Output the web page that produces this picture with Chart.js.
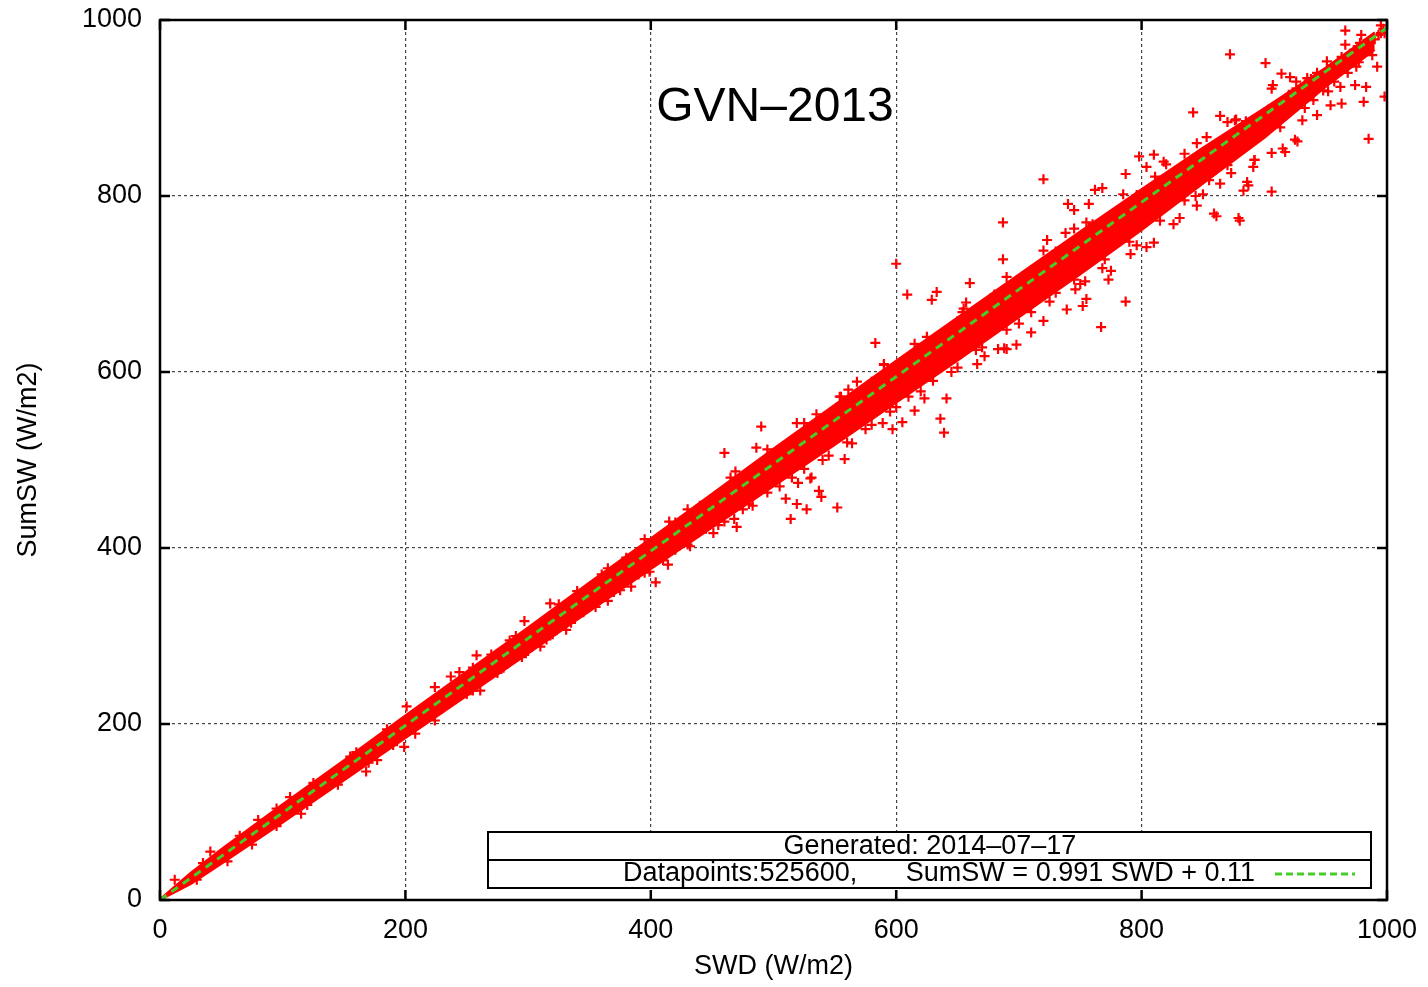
<!DOCTYPE html>
<html>
<head>
<meta charset="utf-8">
<script src="https://cdn.jsdelivr.net/npm/chart.js@4"></script>
<style>
  body { margin: 0; background: #fff; }
  #wrap { width: 1428px; height: 987px; }
</style>
</head>
<body>
<div id="wrap"><canvas id="chart" width="1428" height="987"></canvas></div>
<script>
// axis ticks (both axes)
const tickValues = [0, 200, 400, 600, 800, 1000];

// dense core of the cloud: lower / upper edge of the solid red band
const bandX  = [0, 25, 50, 100, 150, 200, 250, 300, 350, 400, 450, 500, 550, 600, 650, 700, 750, 800, 850, 900, 950, 990];
const bandLo = [0, 18, 41, 88, 136, 184, 232, 280, 328, 376, 423, 470, 517, 565, 613, 662, 711, 761, 814, 866, 924, 966];
const bandHi = [1, 31, 58, 109, 159, 210, 260, 310, 361, 411, 462, 513, 563, 613, 662, 711, 760, 808, 855, 900, 946, 986];

// single points (edge of the band and outliers), SWD / SumSW
const crossX = [
  12, 41, 80, 106, 115, 155, 168, 177, 199, 208, 224, 224, 201,
  35, 65, 95, 125, 160, 185, 30, 55, 75, 95, 120, 145, 170, 190,
  244, 237, 258, 297, 318, 331, 261, 310, 365, 384, 404, 414, 415, 432, 451, 399,
  270, 285, 340, 360, 380, 420, 440, 250, 280, 300, 320, 345, 370, 390, 420, 445,
  460, 490, 486, 469, 483, 470, 468, 514, 519, 527, 537, 539, 510, 520, 530, 519, 535, 554, 561, 568,
  583, 590, 597, 605, 615, 623, 641, 636, 639, 552, 531, 558, 564, 589, 600, 609, 633, 629, 660, 687,
  615, 710, 720, 698, 690, 683, 739, 752, 755, 754, 746, 657, 654, 672, 666, 688,
  470, 500, 530, 560, 580, 620, 650, 680, 730, 760, 460, 480, 505, 525, 545, 575, 595, 620, 645, 665, 700, 730, 750,
  720, 787, 798, 810, 842, 864, 762, 768, 740, 745, 757, 723, 738, 745, 687, 768, 775, 773, 787, 810, 804, 796, 791,
  826, 831, 845, 859, 879, 883, 886, 892, 873, 864, 850, 876, 885, 853, 835, 818, 811, 804, 796, 767,
  966, 995, 901, 914, 872, 985, 998, 981, 974, 983, 963, 954, 952, 943, 931, 925, 915, 906, 891, 892, 877,
  906, 907, 921, 926, 951, 966, 979, 992, 975, 962, 940, 935, 945, 906, 887, 861, 880, 927, 917, 844,
  900, 910, 920, 930, 940, 950, 960, 970, 980, 990, 995, 905, 915, 925, 935, 945, 955, 965, 975, 985, 998,
  890, 880, 870, 860, 895, 912, 928, 948, 968, 988,
  255, 275, 295, 315, 335, 355, 375, 395, 410, 430, 455, 475, 495, 515, 540, 560, 580, 600, 610, 630,
  650, 670, 690, 710, 725, 745, 770, 790, 815, 835, 855, 870,
  255, 290, 325, 365, 395, 430, 465, 495, 525, 555, 590, 625, 655, 690, 720, 755, 785, 820, 845, 870,
  860, 868, 875, 884, 893, 898, 903, 908, 918, 923, 933, 938, 943, 953, 958, 963, 973, 978, 983, 993, 997,
  887, 897, 913, 933, 957, 977
];
const crossY = [
  23, 55, 91, 117, 98, 163, 146, 159, 174, 189, 204, 242, 220,
  42, 73, 104, 133, 168, 194, 23, 44, 63, 84, 108, 131, 156, 176,
  259, 254, 278, 317, 337, 307, 238, 288, 340, 356, 361, 381, 430, 402, 417, 373,
  279, 295, 351, 370, 389, 429, 448, 234, 264, 283, 302, 327, 350, 370, 398, 422,
  508, 538, 514, 487, 448, 424, 433, 433, 450, 444, 465, 458, 456, 474, 479, 542, 552, 572, 580, 589,
  633, 609, 535, 543, 556, 570, 570, 547, 531, 446, 480, 501, 519, 542, 723, 688, 691, 682, 701, 728,
  632, 645, 658, 631, 626, 626, 671, 675, 683, 703, 694, 679, 668, 618, 609, 627,
  475, 507, 538, 567, 589, 627, 658, 688, 737, 768, 430, 450, 470, 490, 505, 535, 555, 578, 600, 625, 655, 690, 700,
  819, 825, 845, 847, 895, 891, 807, 809, 791, 784, 791, 750, 758, 763, 770, 718, 715, 705, 680, 747, 742, 744, 734,
  768, 775, 789, 780, 775, 806, 816, 841, 826, 814, 802, 886, 885, 867, 848, 839, 822, 833, 801, 651,
  988, 994, 951, 939, 961, 865, 913, 907, 926, 924, 905, 903, 919, 892, 886, 864, 854, 849, 833, 841, 887,
  922, 926, 935, 930, 953, 972, 983, 947, 947, 924, 909, 934, 924, 805, 812, 777, 772, 862, 850, 800,
  895, 900, 915, 920, 930, 938, 950, 960, 968, 978, 985, 888, 905, 912, 925, 935, 945, 955, 963, 975, 985,
  880, 870, 855, 850, 875, 890, 905, 920, 940, 960,
  238, 258, 276, 296, 315, 333, 352, 372, 386, 404, 426, 444, 463, 480, 500, 520, 540, 560, 572, 590,
  605, 628, 648, 668, 680, 705, 728, 748, 772, 795, 818, 835,
  264, 300, 336, 377, 410, 444, 480, 512, 542, 572, 608, 640, 672, 708, 738, 770, 802, 836, 860, 884,
  845, 862, 872, 877, 885, 892, 898, 896, 908, 918, 927, 933, 940, 944, 948, 958, 966, 974, 970, 983, 990,
  862, 868, 878, 900, 930, 952
];

// fit from the legend: SumSW = 0.991 SWD + 0.11
const fitX = [0, 1000];
const fitY = [0.11, 991.11];

const FONT = 'Liberation Sans, Arial, Helvetica, sans-serif';
const RED = '#ff0000';
const GREEN = 'rgb(70,205,40)';

const toXY = (xs, ys) => xs.map((v, i) => ({ x: v, y: ys[i] }));

const framePlugin = {
  id: 'frame',
  afterDatasetsDraw(chart) {
    const { ctx, chartArea: a, scales: { x, y } } = chart;
    ctx.save();
    ctx.strokeStyle = '#000';
    ctx.lineWidth = 2.5;
    ctx.strokeRect(a.left, a.top, a.right - a.left, a.bottom - a.top);
    ctx.beginPath();
    tickValues.forEach(v => {
      const px = x.getPixelForValue(v), py = y.getPixelForValue(v);
      ctx.moveTo(px, a.bottom); ctx.lineTo(px, a.bottom - 10);
      ctx.moveTo(px, a.top); ctx.lineTo(px, a.top + 10);
      ctx.moveTo(a.left, py); ctx.lineTo(a.left + 10, py);
      ctx.moveTo(a.right, py); ctx.lineTo(a.right - 10, py);
    });
    ctx.stroke();

    // title
    ctx.fillStyle = '#000';
    ctx.font = '48px ' + FONT;
    ctx.textAlign = 'center';
    ctx.textBaseline = 'middle';
    ctx.fillText('GVN\u20132013', 775, 108);

    // key box
    const bx = 488, by = 832, bw = 883, bh = 56;
    ctx.fillStyle = '#fff';
    ctx.fillRect(bx, by, bw, bh);
    ctx.lineWidth = 2;
    ctx.strokeRect(bx, by, bw, bh);
    ctx.beginPath();
    ctx.moveTo(bx, by + 28); ctx.lineTo(bx + bw, by + 28);
    ctx.stroke();
    ctx.fillStyle = '#000';
    ctx.font = '27px ' + FONT;
    ctx.textAlign = 'center';
    ctx.fillText('Generated: 2014\u201307\u201317', 930, 847);
    ctx.textAlign = 'left';
    ctx.fillText('Datapoints:525600,', 623, 874);
    ctx.textAlign = 'right';
    ctx.fillText('SumSW = 0.991 SWD + 0.11', 1255, 874);
    ctx.strokeStyle = GREEN;
    ctx.lineWidth = 3;
    ctx.setLineDash([7, 4]);
    ctx.beginPath();
    ctx.moveTo(1275, 874); ctx.lineTo(1355, 874);
    ctx.stroke();
    ctx.restore();
  }
};

new Chart(document.getElementById('chart'), {
  type: 'scatter',
  data: {
    datasets: [
      {
        type: 'line', data: toXY(bandX, bandLo), order: 3,
        borderColor: RED, borderWidth: 2, backgroundColor: RED,
        pointRadius: 0, fill: false, tension: 0
      },
      {
        type: 'line', data: toXY(bandX, bandHi), order: 2,
        borderColor: RED, borderWidth: 2, backgroundColor: RED,
        pointRadius: 0, fill: '-1', tension: 0
      },
      {
        type: 'scatter', data: toXY(crossX, crossY), order: 1,
        pointStyle: 'cross', pointRadius: 5, borderWidth: 2.2,
        borderColor: RED, backgroundColor: RED
      },
      {
        type: 'line', data: toXY(fitX, fitY), order: 0,
        borderColor: GREEN, borderWidth: 3, borderDash: [8, 6],
        pointRadius: 0, fill: false
      }
    ]
  },
  options: {
    responsive: false,
    animation: false,
    layout: { padding: { left: 0, top: 20, right: 41, bottom: 0 } },
    plugins: { legend: { display: false }, tooltip: { enabled: false } },
    scales: {
      x: {
        type: 'linear', min: 0, max: 1000,
        afterFit: s => { s.height = 87; s.paddingLeft = 0; s.paddingRight = 0; },
        ticks: {
          stepSize: 200, color: '#000', padding: 14,
          font: { family: FONT, size: 27 },
          callback: v => String(v)
        },
        grid: { color: '#444', lineWidth: 1.2, drawTicks: false },
        border: { display: false, dash: [3, 3] },
        title: {
          display: true, text: 'SWD (W/m2)', color: '#000',
          font: { family: FONT, size: 27 }, padding: { top: 4, bottom: 4 }
        }
      },
      y: {
        type: 'linear', min: 0, max: 1000,
        afterFit: s => { s.width = 160; s.paddingTop = 0; s.paddingBottom = 0; },
        ticks: {
          stepSize: 200, color: '#000', padding: 18,
          font: { family: FONT, size: 27 },
          callback: v => String(v)
        },
        grid: { color: '#444', lineWidth: 1.2, drawTicks: false },
        border: { display: false, dash: [3, 3] },
        title: {
          display: true, text: 'SumSW (W/m2)', color: '#000',
          font: { family: FONT, size: 27 }, padding: { top: 12, bottom: 4 }
        }
      }
    }
  },
  plugins: [framePlugin]
});
</script>
</body>
</html>
